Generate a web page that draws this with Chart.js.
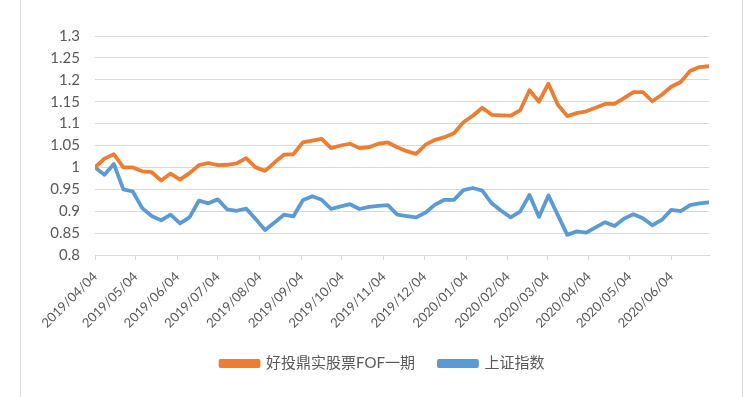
<!DOCTYPE html>
<html>
<head>
<meta charset="utf-8">
<script src="https://cdn.jsdelivr.net/npm/chart.js@4/dist/chart.umd.min.js"></script>
<style>
html,body{margin:0;padding:0;background:#fff;}
#wrap{width:751px;height:397px;position:relative;}
</style>
</head>
<body>
<div id="wrap"><canvas id="c" width="751" height="397"></canvas></div>
<script>
const dates = [
 "2019-04-04","2019-04-11","2019-04-18","2019-04-25","2019-05-02","2019-05-09","2019-05-16","2019-05-23","2019-05-30",
 "2019-06-06","2019-06-13","2019-06-20","2019-06-27","2019-07-04","2019-07-11","2019-07-18","2019-07-25",
 "2019-08-01","2019-08-08","2019-08-15","2019-08-22","2019-08-29","2019-09-05","2019-09-12","2019-09-19","2019-09-26",
 "2019-10-03","2019-10-10","2019-10-17","2019-10-24","2019-10-31","2019-11-07","2019-11-14","2019-11-21","2019-11-28",
 "2019-12-05","2019-12-12","2019-12-19","2019-12-26",
 "2020-01-02","2020-01-09","2020-01-16","2020-01-23","2020-01-30","2020-02-06","2020-02-13","2020-02-20","2020-02-27",
 "2020-03-05","2020-03-12","2020-03-19","2020-03-26","2020-04-02","2020-04-09","2020-04-16","2020-04-23","2020-04-30",
 "2020-05-07","2020-05-14","2020-05-21","2020-05-28","2020-06-04","2020-06-11","2020-06-18","2020-06-25","2020-07-02"
];
const fofValues = [
 1.000,1.020,1.030,1.000,1.000,0.991,0.989,0.970,0.986,0.972,
 0.987,1.005,1.010,1.005,1.006,1.009,1.021,1.000,0.992,1.011,
 1.029,1.030,1.057,1.061,1.065,1.044,1.050,1.054,1.044,1.046,
 1.054,1.057,1.046,1.037,1.031,1.052,1.063,1.069,1.078,1.103,
 1.118,1.136,1.120,1.119,1.118,1.130,1.176,1.150,1.191,1.143,
 1.117,1.124,1.128,1.136,1.145,1.145,1.158,1.172,1.172,1.151,
 1.166,1.184,1.195,1.220,1.229,1.231
];
const sseValues = [
 1.000,0.983,1.008,0.950,0.945,0.907,0.889,0.879,0.892,0.872,
 0.886,0.924,0.918,0.927,0.904,0.901,0.906,0.882,0.857,0.874,
 0.892,0.888,0.925,0.934,0.926,0.905,0.911,0.916,0.905,0.910,
 0.912,0.914,0.892,0.889,0.886,0.897,0.915,0.926,0.926,0.948,
 0.953,0.947,0.918,0.901,0.886,0.899,0.937,0.887,0.936,0.891,
 0.846,0.854,0.851,0.863,0.875,0.866,0.883,0.893,0.884,0.868,
 0.880,0.903,0.900,0.914,0.918,0.920
];
const tickLabels = [
 "2019/04/04","2019/05/04","2019/06/04","2019/07/04","2019/08/04","2019/09/04","2019/10/04",
 "2019/11/04","2019/12/04","2020/01/04","2020/02/04","2020/03/04","2020/04/04","2020/05/04","2020/06/04"
];
const seriesNames = ["好投鼎实股票FOF一期","上证指数"];

const DAY = 86400000;
const t0 = Date.parse(dates[0] + "T00:00:00Z");
const toDay = s => Math.round((Date.parse(s.replace(/\//g, "-") + "T00:00:00Z") - t0) / DAY);
const xDays = dates.map(toDay);
const tickDays = tickLabels.map(toDay);

const FONT = "Lato, 'Noto Sans CJK SC', sans-serif";
const TXT = "#595959";
const GRID = "#d9d9d9";

const framePlugin = {
  id: "frame",
  beforeDraw(chart) {
    const ctx = chart.ctx;
    ctx.save();
    ctx.fillStyle = "#fff";
    ctx.fillRect(0, 0, chart.width, chart.height);
    ctx.strokeStyle = GRID;
    ctx.lineWidth = 1;
    ctx.beginPath();
    ctx.moveTo(20.5, 0); ctx.lineTo(20.5, chart.height);
    ctx.moveTo(742.5, 0); ctx.lineTo(742.5, chart.height);
    ctx.stroke();
    ctx.restore();
  },
  afterLayout(chart) {
    if (chart.legend) { chart.legend.left += 28; chart.legend.right += 28; }
  }
};

new Chart(document.getElementById("c"), {
  type: "line",
  data: {
    datasets: [
      {
        label: seriesNames[0],
        data: xDays.map((x, i) => ({ x, y: fofValues[i] })),
        borderColor: "#ED7D31",
        backgroundColor: "#ED7D31",
        borderWidth: 3.8,
        pointRadius: 0,
        tension: 0,
        borderJoinStyle: "round",
        borderCapStyle: "round"
      },
      {
        label: seriesNames[1],
        data: xDays.map((x, i) => ({ x, y: sseValues[i] })),
        borderColor: "#5B9BD5",
        backgroundColor: "#5B9BD5",
        borderWidth: 3.8,
        pointRadius: 0,
        tension: 0,
        borderJoinStyle: "round",
        borderCapStyle: "round"
      }
    ]
  },
  options: {
    responsive: false,
    animation: false,
    events: [],
    layout: { padding: { top: 36, right: 42, bottom: 16, left: 0 } },
    plugins: {
      tooltip: { enabled: false },
      legend: {
        position: "bottom",
        labels: {
          font: { family: FONT, size: 15 },
          color: TXT,
          boxWidth: 38,
          boxHeight: 5,
          padding: 24
        }
      }
    },
    scales: {
      x: {
        type: "linear",
        min: 0,
        max: xDays[xDays.length - 1],
        afterBuildTicks(scale) { scale.ticks = tickDays.map(v => ({ value: v })); },
        afterFit(scale) { scale.height = 77; },
        ticks: {
          autoSkip: false,
          maxRotation: 45,
          minRotation: 45,
          padding: 9,
          color: TXT,
          font: { family: FONT, size: 13 },
          callback: (v, i) => tickLabels[i]
        },
        grid: { drawOnChartArea: false, drawTicks: true, tickLength: 5, color: GRID },
        border: { color: GRID }
      },
      y: {
        min: 0.8,
        max: 1.3,
        afterFit(scale) { scale.width = 95; },
        ticks: {
          stepSize: 0.05,
          autoSkip: false,
          padding: 15,
          color: TXT,
          font: { family: FONT, size: 15 },
          callback: v => String(parseFloat(Number(v).toFixed(2)))
        },
        grid: { color: GRID, drawTicks: false },
        border: { display: false }
      }
    }
  },
  plugins: [framePlugin]
});
</script>
</body>
</html>
